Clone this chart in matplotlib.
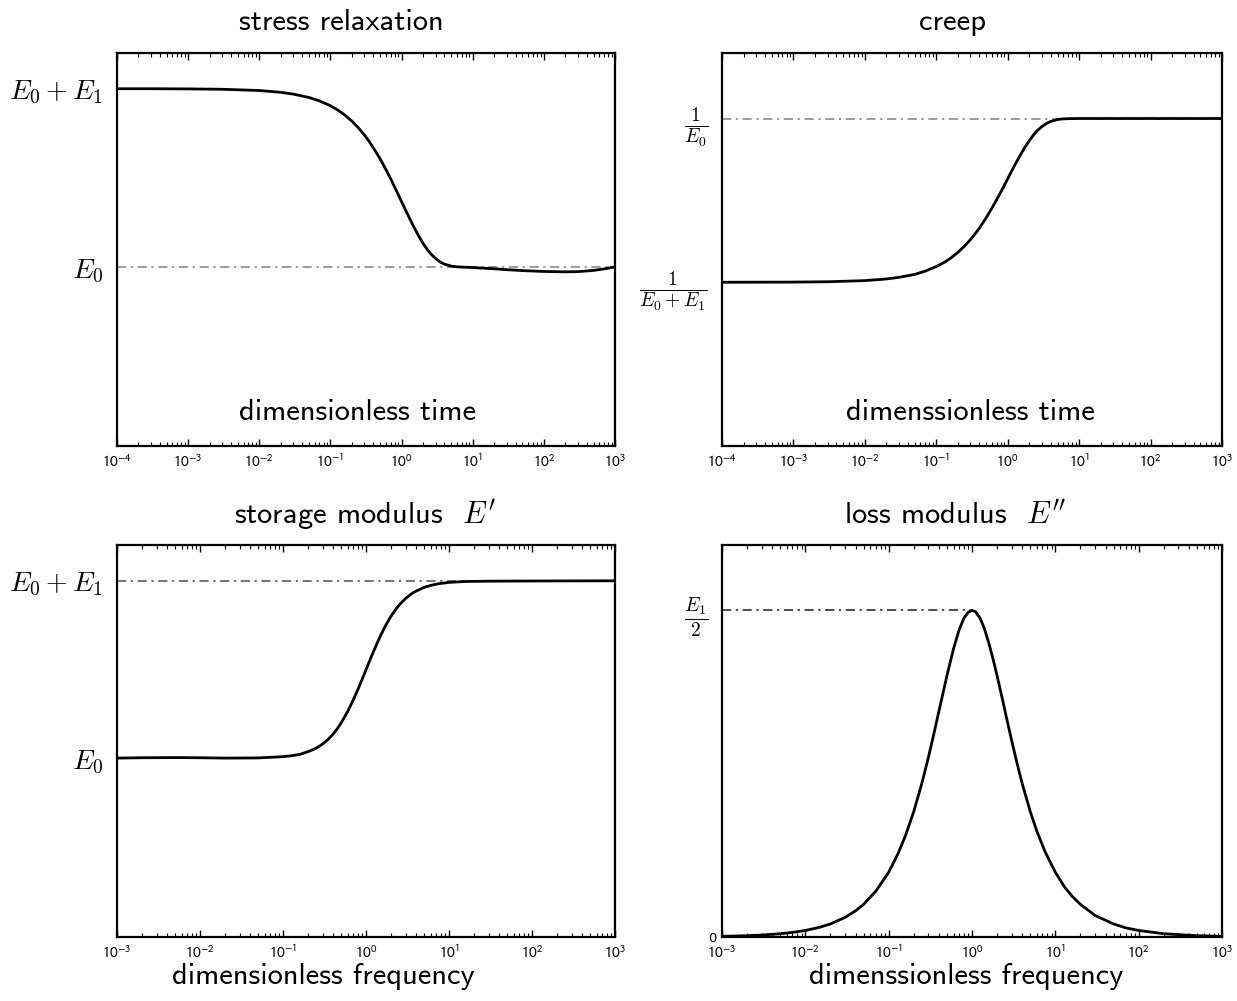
import matplotlib
matplotlib.use('Agg')
import matplotlib.pyplot as plt
from matplotlib.ticker import LogLocator, NullFormatter

plt.rcParams['mathtext.fontset'] = 'cm'
plt.rcParams['axes.unicode_minus'] = False

# stress relaxation (E0 = 1, E1 = 1)
relax_t = [1e-4, 3e-4, 1e-3, 3e-3, 1e-2, 2e-2, 3e-2, 5e-2, 7e-2, 0.1, 0.13,
           0.16, 0.2, 0.25, 0.3, 0.35, 0.4, 0.5, 0.6, 0.7, 0.85, 1.0, 1.15,
           1.3, 1.5, 1.75, 2.0, 2.3, 2.6, 3.0, 3.5, 4.0, 5.0, 6.0, 7.5, 10,
           15, 20, 30, 50, 100, 200, 300, 500, 700, 1000]
relax_E = [2.0, 2.0, 1.999, 1.997, 1.99, 1.98, 1.970, 1.951, 1.932, 1.905,
           1.878, 1.852, 1.819, 1.779, 1.741, 1.705, 1.670, 1.607, 1.549,
           1.497, 1.427, 1.368, 1.317, 1.273, 1.223, 1.174, 1.135, 1.100,
           1.074, 1.050, 1.030, 1.018, 1.007, 1.003, 1.001, 0.999, 0.995,
           0.992, 0.987, 0.982, 0.977, 0.975, 0.976, 0.983, 0.991, 1.003]

# creep compliance
creep_t = [1e-4, 1e-3, 3e-3, 1e-2, 2e-2, 3e-2, 5e-2, 7e-2, 0.1, 0.13, 0.16,
           0.2, 0.25, 0.3, 0.35, 0.4, 0.5, 0.6, 0.7, 0.85, 1.0, 1.15, 1.3,
           1.5, 1.75, 2.0, 2.3, 2.6, 3.0, 3.5, 4.0, 5.0, 6.0, 7.5, 10, 100,
           1000]
creep_J = [0.500, 0.5005, 0.5015, 0.505, 0.510, 0.515, 0.524, 0.534, 0.548,
           0.561, 0.574, 0.591, 0.611, 0.630, 0.648, 0.665, 0.697, 0.726,
           0.752, 0.786, 0.816, 0.842, 0.864, 0.888, 0.913, 0.932, 0.950,
           0.963, 0.975, 0.985, 0.991, 0.997, 0.9988, 0.9997, 1.0, 1.0, 1.0]

# storage modulus
stor_w = [1e-3, 2e-3, 5e-3, 1e-2, 2e-2, 5e-2, 0.1, 0.13, 0.16, 0.2, 0.25,
          0.3, 0.35, 0.4, 0.45, 0.5, 0.6, 0.7, 0.8, 0.9, 1.0, 1.15, 1.3, 1.5,
          1.75, 2.0, 2.3, 2.6, 3.0, 3.5, 4.0, 5.0, 6.0, 7.5, 10, 15, 30, 100,
          1000]
stor_E = [1.004, 1.006, 1.007, 1.006, 1.004, 1.005, 1.012, 1.018, 1.025,
          1.040, 1.059, 1.083, 1.109, 1.138, 1.168, 1.200, 1.265, 1.329,
          1.390, 1.447, 1.500, 1.569, 1.628, 1.692, 1.754, 1.800, 1.841,
          1.871, 1.900, 1.925, 1.941, 1.962, 1.973, 1.983, 1.990, 1.995,
          1.997, 1.998, 1.999]

# loss modulus
loss_w = [1e-3, 2e-3, 3e-3, 5e-3, 7e-3, 1e-2, 1.5e-2, 2e-2, 3e-2, 4e-2, 5e-2,
          7e-2, 0.1, 0.13, 0.16, 0.2, 0.25, 0.3, 0.35, 0.4, 0.45, 0.5, 0.6,
          0.7, 0.8, 0.9, 1.0, 1.1, 1.25, 1.4, 1.6, 1.8, 2.0, 2.3, 2.6, 3.0,
          3.5, 4.0, 5.0, 6.0, 7.5, 10, 13, 16, 20, 30, 50, 70, 100, 200, 500,
          1000]
loss_E = [0.001, 0.002, 0.003, 0.005, 0.007, 0.010, 0.015, 0.020, 0.030,
          0.040, 0.050, 0.070, 0.099, 0.128, 0.156, 0.192, 0.235, 0.275,
          0.312, 0.345, 0.374, 0.400, 0.441, 0.470, 0.488, 0.497, 0.500,
          0.498, 0.488, 0.473, 0.449, 0.424, 0.400, 0.366, 0.335, 0.300,
          0.264, 0.235, 0.192, 0.162, 0.131, 0.099, 0.076, 0.062, 0.050,
          0.033, 0.020, 0.014, 0.010, 0.005, 0.002, 0.001]

# reference levels (dash-dot)
relax_ref = 1.0
creep_ref = 1.0
stor_ref = 2.0
loss_ref = 0.5

W, H = 1237, 1001
fig = plt.figure(figsize=(W / 100, H / 100), dpi=100)


def box(x0, y0, x1, y1):
    return [x0 / W, 1 - y1 / H, (x1 - x0) / W, (y1 - y0) / H]


ax1 = fig.add_axes(box(117, 53, 615, 446))
ax2 = fig.add_axes(box(722, 53, 1222, 446))
ax3 = fig.add_axes(box(117, 545, 615, 937))
ax4 = fig.add_axes(box(722, 545, 1222, 937))


def style(ax, e0, e1):
    ax.set_xscale('log')
    ax.set_xlim(10.0 ** e0, 10.0 ** e1)
    ax.set_xticks([10.0 ** k for k in range(e0, e1 + 1)])
    ax.set_xticklabels([r'$10^{%d}$' % k for k in range(e0, e1 + 1)],
                       fontsize=11, math_fontfamily='stixsans')
    ax.xaxis.set_minor_locator(LogLocator(base=10, subs=range(2, 10), numticks=20))
    ax.xaxis.set_minor_formatter(NullFormatter())
    ax.tick_params(axis='x', which='major', direction='in', top=True,
                   length=5, width=1, pad=5)
    ax.tick_params(axis='x', which='minor', direction='in', top=True,
                   length=3, width=0.8)
    ax.tick_params(axis='y', length=0, pad=10, labelsize=20)
    for s in ax.spines.values():
        s.set_linewidth(1.6)


sans = 'cmss10'
dashdot = (0, (6, 3, 1.5, 3))

# stress relaxation
style(ax1, -4, 3)
ax1.plot([1e-4, 1e3], [relax_ref, relax_ref], color='0.5', lw=1.1, ls=dashdot)
ax1.plot(relax_t, relax_E, color='black', lw=2)
ax1.set_ylim(0, 2.2)
ax1.set_yticks([1, 2])
ax1.set_yticklabels([r'$E_0$', r'$E_0+E_1$'])

# creep
style(ax2, -4, 3)
ax2.plot([1e-4, 1e3], [creep_ref, creep_ref], color='0.5', lw=1.1, ls=dashdot)
ax2.plot(creep_t, creep_J, color='black', lw=2)
ax2.set_ylim(0, 1.2)
ax2.set_yticks([0.5, 1.0])
ax2.set_yticklabels([r'$\frac{1}{E_0+E_1}$', r'$\frac{1}{E_0}$'], fontsize=20)

# storage modulus
style(ax3, -3, 3)
ax3.plot([1e-3, 1e3], [stor_ref, stor_ref], color='0.3', lw=1.1, ls=dashdot)
ax3.plot(stor_w, stor_E, color='black', lw=2)
ax3.set_ylim(0, 2.2)
ax3.set_yticks([1, 2])
ax3.set_yticklabels([r'$E_0$', r'$E_0+E_1$'])

# loss modulus
style(ax4, -3, 3)
ax4.plot([1e-3, 1.0], [loss_ref, loss_ref], color='0.1', lw=1.1, ls=dashdot)
ax4.plot(loss_w, loss_E, color='black', lw=2)
ax4.set_ylim(0, 0.6)
ax4.set_yticks([0, 0.5])
ax4.set_yticklabels(['0', r'$\frac{E_1}{2}$'], fontsize=20)
lbl0 = ax4.get_yticklabels()[0]
lbl0.set_fontsize(9.5)
lbl0.set_family('DejaVu Sans')
ax4.yaxis.get_major_ticks()[0].set_pad(4)


def ftext(x, y, s, size):
    fig.text(x / W, 1 - y / H, s, ha='center', va='center', fontsize=size,
             family=sans)


ftext(341, 22, 'stress relaxation', 22)
ftext(953, 22, 'creep', 22)
ftext(365, 515, r"storage modulus  $E'$", 22)
ftext(955, 515, r"loss modulus  $E''$", 22)
ftext(358, 413, 'dimensionless time', 22)
ftext(970, 413, 'dimenssionless time', 22)
ftext(323, 977, 'dimensionless frequency', 22)
ftext(966, 977, 'dimenssionless frequency', 22)

fig.savefig('out.png', dpi=100)
